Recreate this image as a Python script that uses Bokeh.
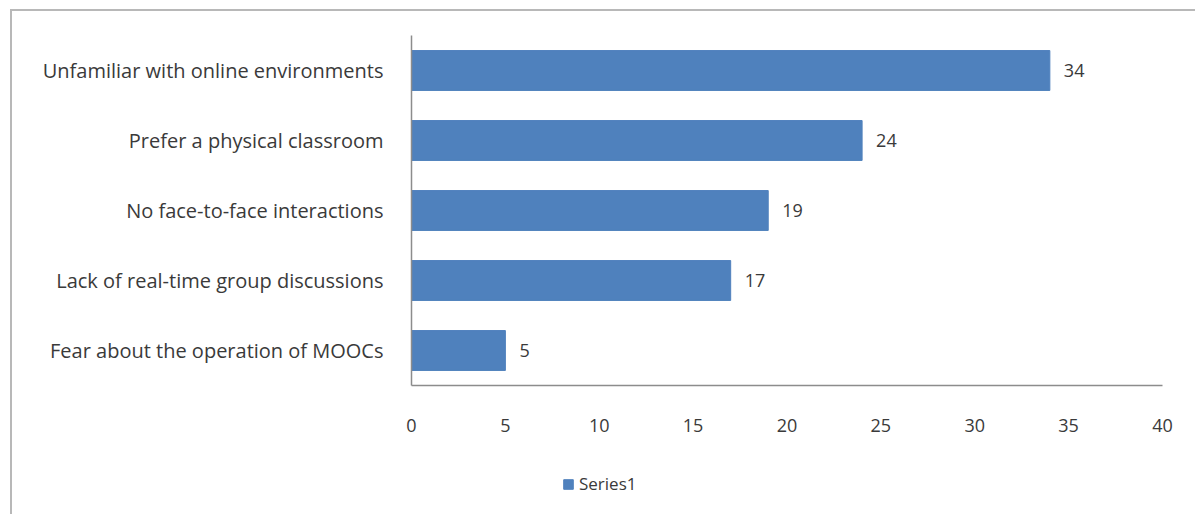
from bokeh.plotting import figure
from bokeh.layouts import column
from bokeh.models import ColumnDataSource, Legend, LegendItem, FixedTicker, LabelSet, InlineStyleSheet
from bokeh.core.properties import value
from bokeh.embed import file_html
from bokeh.resources import INLINE

categories = ["Fear about the operation of MOOCs",
              "Lack of real-time group discussions",
              "No face-to-face interactions",
              "Prefer a physical classroom",
              "Unfamiliar with online environments"]
values = [5, 17, 19, 24, 34]
x_ticks = [0, 5, 10, 15, 20, 25, 30, 35, 40]
series_name = "Series1"

FONT = "Open Sans"
TXT = "#3a3a3a"
BAR = "#4f81bd"

src = ColumnDataSource(dict(cat=categories, val=values, lab=[str(v) for v in values]))

p = figure(width=1195, height=460, y_range=categories, x_range=(0, 40),
           output_backend="svg", toolbar_location=None,
           min_border_left=411, min_border_right=33, min_border_top=35, min_border_bottom=75)
p.outline_line_color = None
p.grid.grid_line_color = None

r = p.hbar(y="cat", right="val", height=0.57, source=src, fill_color=BAR, line_color=BAR)

labels = LabelSet(x="val", y="cat", text="lab", source=src, x_offset=14, y_offset=0,
                  text_baseline="middle", text_font=value(FONT), text_font_size="18px",
                  text_color=TXT)
p.add_layout(labels)

p.xaxis.ticker = FixedTicker(ticks=x_ticks)
p.xaxis.major_tick_line_color = None
p.xaxis.minor_tick_line_color = None
p.xaxis.axis_line_color = "#8c8c8c"
p.xaxis.axis_line_width = 1.5
p.xaxis.major_label_text_font = FONT
p.xaxis.major_label_text_font_size = "18px"
p.xaxis.major_label_text_color = TXT
p.xaxis.major_label_standoff = 27

p.yaxis.major_tick_line_color = None
p.yaxis.minor_tick_line_color = None
p.yaxis.axis_line_color = "#8c8c8c"
p.yaxis.axis_line_width = 1.5
p.yaxis.major_label_text_font = FONT
p.yaxis.major_label_text_font_size = "20px"
p.yaxis.major_label_text_color = TXT
p.yaxis.major_label_standoff = 22

# legend strip below the chart (its frame is aligned with the chart frame by the column)
p2 = figure(width=1195, height=54, x_range=(0, 1), y_range=(0, 1),
            output_backend="svg", toolbar_location=None,
            x_axis_location=None, y_axis_location=None, min_border=0)
p2.outline_line_color = None
p2.grid.visible = False
legend_src = ColumnDataSource(dict(y=[-10], right=[-10]))
r2 = p2.hbar(y="y", right="right", height=0.5, source=legend_src,
             fill_color=BAR, line_color=BAR)

legend = Legend(items=[LegendItem(label=series_name, renderers=[r2])], orientation="horizontal",
                location=(151, 19), label_text_font=FONT, label_text_font_size="17px",
                label_text_color=TXT, glyph_width=12, glyph_height=12, border_line_color=None,
                background_fill_alpha=0, margin=0, padding=0, label_standoff=5)
p2.add_layout(legend)

layout = column(p, p2, spacing=0)
layout.stylesheets = [InlineStyleSheet(css="""
:host::after {
  content: '';
  position: absolute;
  left: 10px; top: 9px; right: -20px; bottom: -20px;
  border: 2px solid #b8b8b8;
  pointer-events: none;
}
""")]

open("out.html", "w").write(file_html(layout, INLINE))
